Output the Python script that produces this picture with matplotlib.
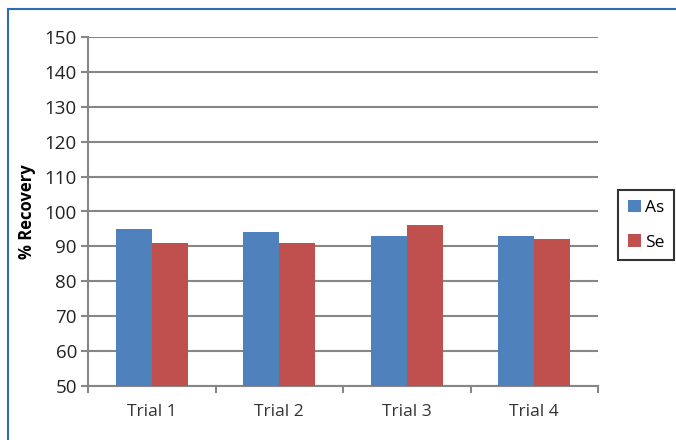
import numpy as np
import matplotlib.pyplot as plt
from matplotlib.lines import Line2D

# Datos
trials = ['Trial 1', 'Trial 2', 'Trial 3', 'Trial 4']
as_vals = [95, 94, 93, 93]
se_vals = [91, 91, 96, 92]
y_ticks = [50, 60, 70, 80, 90, 100, 110, 120, 130, 140, 150]

plt.rcParams['font.family'] = ['Open Sans', 'DejaVu Sans']

W, H = 676, 440
fig = plt.figure(figsize=(W / 100, H / 100), dpi=100)

# marco azul exterior (arriba e izquierda)
fig.add_artist(Line2D([8 / W, 1], [1 - 9 / H, 1 - 9 / H], color='#2E6DB4', lw=1.5))
fig.add_artist(Line2D([8 / W, 8 / W], [0, 1 - 9 / H], color='#2E6DB4', lw=1.5))

ax = fig.add_axes([88 / W, 1 - 386 / H, (598 - 88) / W, (386 - 37) / H])

x = np.arange(len(trials))
w = 36 / 127.5
ax.bar(x - w / 2, as_vals, w, color='#4F81BD', label='As', zorder=3)
ax.bar(x + w / 2, se_vals, w, color='#C0504D', label='Se', zorder=3)

ax.set_xlim(-0.5, len(trials) - 0.5)
ax.set_ylim(50, 150)
ax.set_yticks(y_ticks)
ax.set_xticks(x)
ax.set_xticklabels(trials)
ax.set_xticks(np.arange(len(trials) + 1) - 0.5, minor=True)
ax.tick_params(axis='x', which='major', length=0, pad=13, labelsize=12.5, colors='#333333')
ax.tick_params(axis='x', which='minor', length=5, width=1.5, color='#868686')
ax.tick_params(axis='y', length=5, width=1.5, color='#868686', labelsize=13.5, labelcolor='#222222', pad=3)

ax.grid(axis='y', color='#868686', lw=1.5, zorder=0)
for s in ['top', 'right']:
    ax.spines[s].set_visible(False)
for s in ['left', 'bottom']:
    ax.spines[s].set_color('#868686')
    ax.spines[s].set_linewidth(1.5)

ax.set_ylabel('% Recovery', fontsize=12, fontweight='bold', labelpad=6)

leg = fig.legend(loc='upper left', bbox_to_anchor=(618 / W, 1 - 190 / H),
                 frameon=True, fancybox=False, fontsize=12.5,
                 handlelength=0.75, handleheight=0.75, handletextpad=0.25,
                 labelspacing=1.05, borderpad=0.55, borderaxespad=0)
leg.get_frame().set_edgecolor('black')
leg.get_frame().set_linewidth(1.5)

fig.savefig('out.png', dpi=100)
